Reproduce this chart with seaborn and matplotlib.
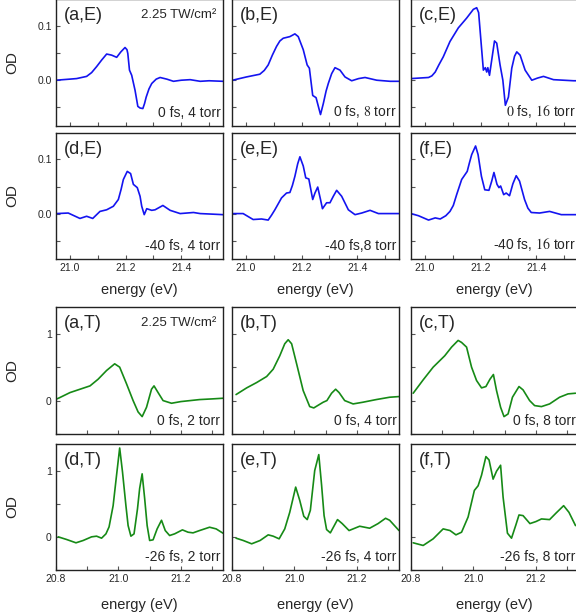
import matplotlib
matplotlib.use("Agg")
import matplotlib.pyplot as plt
import seaborn as sns

# ---- E group (blue), energy axis 20.95-21.55 eV ----
a_E_x = [20.95, 21.00, 21.024, 21.06, 21.078, 21.096, 21.114, 21.132, 21.15, 21.168, 21.183, 21.198,
         21.205, 21.208, 21.214, 21.222, 21.234, 21.244, 21.252, 21.262, 21.268, 21.274, 21.284, 21.294,
         21.31, 21.324, 21.348, 21.372, 21.40, 21.432, 21.468, 21.50, 21.55]
a_E_y = [0.0, 0.002, 0.003, 0.007, 0.014, 0.025, 0.037, 0.048, 0.046, 0.042, 0.052, 0.060,
         0.056, 0.049, 0.0185, 0.009, -0.0185, -0.048, -0.051, -0.052, -0.043, -0.031, -0.016, -0.006,
         0.002, 0.005, 0.002, -0.002, 0.0, 0.001, -0.002, -0.001, -0.002]

b_E_x = [20.952, 21.002, 21.05, 21.066, 21.08, 21.095, 21.11, 21.122, 21.134, 21.158, 21.176, 21.188,
         21.206, 21.22, 21.228, 21.24, 21.252, 21.268, 21.278, 21.288, 21.296, 21.308, 21.32, 21.338,
         21.356, 21.38, 21.405, 21.428, 21.47, 21.518, 21.55]
b_E_y = [0.0, 0.006, 0.011, 0.018, 0.028, 0.046, 0.062, 0.072, 0.077, 0.080, 0.085, 0.080,
         0.056, 0.028, 0.022, -0.028, -0.032, -0.063, -0.043, -0.020, -0.006, 0.012, 0.023, 0.0185,
         0.006, -0.001, 0.003, 0.005, 0.0, -0.002, -0.002]

c_E_x = [20.95, 21.013, 21.025, 21.037, 21.05, 21.066, 21.09, 21.12, 21.15, 21.174, 21.186, 21.193,
         21.202, 21.21, 21.217, 21.222, 21.226, 21.232, 21.24, 21.25, 21.258, 21.27, 21.28, 21.289,
         21.30, 21.312, 21.322, 21.33, 21.342, 21.36, 21.384, 21.405, 21.426, 21.462, 21.534, 21.55]
c_E_y = [0.003, 0.005, 0.008, 0.015, 0.028, 0.043, 0.071, 0.096, 0.114, 0.130, 0.133, 0.124,
         0.068, 0.0185, 0.023, 0.015, 0.023, 0.009, 0.037, 0.072, 0.068, 0.028, 0.0, -0.046,
         -0.031, 0.022, 0.044, 0.052, 0.046, 0.0185, 0.0, 0.004, 0.007, 0.001, -0.001, -0.001]

d_E_x = [20.952, 20.994, 21.036, 21.06, 21.082, 21.108, 21.132, 21.156, 21.174, 21.184, 21.192, 21.206,
         21.218, 21.228, 21.242, 21.252, 21.258, 21.267, 21.276, 21.294, 21.306, 21.334, 21.36, 21.396,
         21.444, 21.468, 21.51, 21.55]
d_E_y = [0.0, 0.001, -0.009, -0.005, -0.009, 0.004, 0.007, 0.0135, 0.026, 0.045, 0.063, 0.078,
         0.074, 0.054, 0.048, 0.032, 0.0135, -0.002, 0.009, 0.006, 0.007, 0.015, 0.006, 0.0,
         0.002, 0.0, -0.001, -0.002]

e_E_x = [20.955, 20.99, 21.026, 21.056, 21.08, 21.092, 21.104, 21.116, 21.128, 21.146, 21.158, 21.167,
         21.176, 21.186, 21.194, 21.206, 21.215, 21.226, 21.24, 21.248, 21.258, 21.268, 21.275, 21.29,
         21.302, 21.314, 21.326, 21.344, 21.368, 21.392, 21.416, 21.446, 21.476, 21.518, 21.55]
e_E_y = [0.0, 0.0, -0.011, -0.010, -0.012, -0.003, 0.007, 0.018, 0.029, 0.038, 0.039, 0.052,
         0.069, 0.092, 0.105, 0.088, 0.066, 0.064, 0.026, 0.038, 0.049, 0.026, 0.009, 0.020,
         0.020, 0.032, 0.043, 0.032, 0.007, -0.002, 0.001, 0.006, 0.0, 0.0, 0.0]

f_E_x = [20.95, 20.977, 21.013, 21.037, 21.055, 21.075, 21.09, 21.102, 21.114, 21.132, 21.152, 21.16,
         21.168, 21.182, 21.191, 21.203, 21.215, 21.23, 21.24, 21.248, 21.259, 21.266, 21.272, 21.283,
         21.292, 21.304, 21.316, 21.328, 21.34, 21.358, 21.37, 21.382, 21.412, 21.448, 21.49, 21.545]
f_E_y = [0.0, -0.004, -0.012, -0.008, -0.010, -0.004, 0.004, 0.015, 0.035, 0.063, 0.078, 0.094,
         0.109, 0.125, 0.109, 0.069, 0.044, 0.043, 0.060, 0.076, 0.054, 0.048, 0.051, 0.035,
         0.038, 0.033, 0.055, 0.070, 0.060, 0.026, 0.010, 0.002, 0.001, 0.004, -0.002, -0.002]

# ---- T group (green), energy axis 20.8-21.34 eV ----
a_T_x = [20.80, 20.81, 20.845, 20.877, 20.909, 20.935, 20.962, 20.988, 21.004, 21.026, 21.047, 21.063,
         21.076, 21.09, 21.106, 21.114, 21.127, 21.143, 21.17, 21.20, 21.26, 21.30, 21.335]
a_T_y = [0.02, 0.04, 0.12, 0.17, 0.22, 0.32, 0.45, 0.55, 0.50, 0.25, 0.0, -0.17,
         -0.24, -0.10, 0.17, 0.22, 0.12, 0.0, -0.04, -0.015, 0.015, 0.025, 0.035]

b_T_x = [20.813, 20.847, 20.879, 20.911, 20.932, 20.953, 20.969, 20.98, 20.991, 21.007, 21.028, 21.049,
         21.062, 21.076, 21.092, 21.104, 21.119, 21.132, 21.143, 21.161, 21.188, 21.219, 21.262, 21.305,
         21.335]
b_T_y = [0.09, 0.19, 0.27, 0.36, 0.47, 0.67, 0.85, 0.91, 0.85, 0.55, 0.15, -0.09,
         -0.11, -0.07, -0.025, 0.0, 0.11, 0.17, 0.12, 0.0, -0.05, -0.025, 0.015, 0.05,
         0.06]

c_T_x = [20.807, 20.839, 20.871, 20.908, 20.93, 20.951, 20.962, 20.978, 20.994, 21.01, 21.026, 21.04,
         21.053, 21.064, 21.074, 21.087, 21.098, 21.111, 21.125, 21.146, 21.159, 21.18, 21.196, 21.218,
         21.244, 21.276, 21.303, 21.327]
c_T_y = [0.11, 0.31, 0.50, 0.67, 0.80, 0.90, 0.87, 0.80, 0.50, 0.30, 0.19, 0.21,
         0.32, 0.39, 0.15, -0.10, -0.24, -0.20, 0.05, 0.21, 0.16, 0.0, -0.075, -0.09,
         -0.05, 0.05, 0.10, 0.11]

d_T_x = [20.807, 20.834, 20.864, 20.887, 20.914, 20.93, 20.946, 20.96, 20.97, 20.983, 20.994, 21.004,
         21.013, 21.024, 21.031, 21.04, 21.05, 21.061, 21.068, 21.076, 21.084, 21.092, 21.10, 21.111,
         21.124, 21.138, 21.15, 21.164, 21.18, 21.205, 21.223, 21.239, 21.26, 21.292, 21.313, 21.335]
d_T_y = [0.0, -0.04, -0.09, -0.055, 0.0, 0.01, -0.02, 0.045, 0.15, 0.47, 0.93, 1.34,
         0.98, 0.47, 0.17, 0.01, 0.045, 0.42, 0.73, 0.95, 0.58, 0.17, -0.055, -0.045,
         0.12, 0.25, 0.095, 0.02, 0.045, 0.105, 0.07, 0.06, 0.095, 0.145, 0.12, 0.055]

e_T_x = [20.813, 20.836, 20.863, 20.89, 20.916, 20.932, 20.951, 20.969, 20.985, 21.004, 21.017, 21.03,
         21.041, 21.051, 21.065, 21.078, 21.087, 21.095, 21.103, 21.115, 21.138, 21.153, 21.175, 21.209,
         21.241, 21.268, 21.292, 21.305, 21.335]
e_T_y = [-0.02, -0.055, -0.105, -0.055, 0.03, 0.01, -0.03, 0.12, 0.37, 0.75, 0.55, 0.31,
         0.26, 0.40, 1.00, 1.24, 0.78, 0.32, 0.11, 0.06, 0.26, 0.20, 0.095, 0.16,
         0.13, 0.20, 0.28, 0.25, 0.095]

f_T_x = [20.807, 20.839, 20.871, 20.903, 20.925, 20.944, 20.962, 20.983, 21.003, 21.015, 21.026, 21.04,
         21.05, 21.063, 21.074, 21.087, 21.095, 21.109, 21.122, 21.136, 21.146, 21.159, 21.181, 21.20,
         21.218, 21.244, 21.265, 21.289, 21.306, 21.327]
f_T_y = [-0.09, -0.13, -0.03, 0.12, 0.095, 0.03, 0.07, 0.30, 0.70, 0.77, 0.93, 1.21,
         1.16, 0.87, 0.99, 1.08, 0.60, 0.055, -0.02, 0.18, 0.33, 0.32, 0.20, 0.23,
         0.27, 0.26, 0.36, 0.47, 0.37, 0.17]

panel_names_E = ["(a,E)", "(b,E)", "(c,E)", "(d,E)", "(e,E)", "(f,E)"]
panel_names_T = ["(a,T)", "(b,T)", "(c,T)", "(d,T)", "(e,T)", "(f,T)"]
conditions_E = ["0 fs, 4 torr", "0 fs, $\\mathrm{8}$ torr", "$\\mathrm{0}$ fs, $\\mathrm{16}$ torr",
                "-40 fs, 4 torr", "-40 fs,8 torr", "-40 fs, $\\mathrm{16}$ torr"]
conditions_T = ["0 fs, 2 torr", "0 fs, 4 torr", "0 fs, 8 torr",
                "-26 fs, 2 torr", "-26 fs, 4 torr", "-26 fs, 8 torr"]
intensity_label = "2.25 TW/cm²"

E_xticks = [21.0, 21.1, 21.2, 21.3, 21.4, 21.5]
E_xticklabels = ["21.0", "", "21.2", "", "21.4", ""]
E_yticks = [-0.05, 0.0, 0.05, 0.1]
E_yticklabels = ["", "0.0", "", "0.1"]
T_xticks = [20.8, 20.9, 21.0, 21.1, 21.2, 21.3]
T_xticklabels = ["20.8", "", "21.0", "", "21.2", ""]
T_yticks = [-0.5, 0, 0.5, 1.0]
T_yticklabels = ["", "0", "", "1"]

E_data = [(a_E_x, a_E_y), (b_E_x, b_E_y), (c_E_x, c_E_y),
          (d_E_x, d_E_y), (e_E_x, e_E_y), (f_E_x, f_E_y)]
T_data = [(a_T_x, a_T_y), (b_T_x, b_T_y), (c_T_x, c_T_y),
          (d_T_x, d_T_y), (e_T_x, e_T_y), (f_T_x, f_T_y)]

sns.set_style("ticks")
plt.rcParams["font.family"] = ["Liberation Sans", "DejaVu Sans"]
plt.rcParams["mathtext.fontset"] = "stix"

W, H = 576, 615
fig = plt.figure(figsize=(W / 100, H / 100), dpi=100)

col_left = [56, 232, 411]
col_w = 167
rows_E = [(-1, 126), (133, 259)]
rows_T = [(307, 434), (444, 570)]


def make_ax(left, top, bottom):
    return fig.add_axes([left / W, 1 - bottom / H, col_w / W, (bottom - top) / H])


def draw_group(rows, data, names, conds, color, xlim, ylim, xticks, xtl, yticks, ytl, xlab_y):
    for i, (xs, ys) in enumerate(data):
        r, c = divmod(i, 3)
        top, bottom = rows[r]
        h = bottom - top
        ax = make_ax(col_left[c], top, bottom)
        sns.lineplot(x=xs, y=ys, ax=ax, color=color, lw=1.2, estimator=None, sort=False)
        ax.set_xlim(*xlim)
        ax.set_ylim(*ylim)
        ax.set_xticks(xticks)
        ax.set_yticks(yticks)
        ax.set_xticklabels(xtl if r == 1 else [""] * len(xticks))
        ax.set_yticklabels(ytl if c == 0 else [""] * len(yticks))
        ax.tick_params(direction="in", length=3, width=0.8, color="#555555",
                       labelsize=7.5, pad=3)
        for s in ax.spines.values():
            s.set_linewidth(1.0)
            s.set_color("#222222")
        ax.text(0.045, 1 - 7.5 / h, names[i], transform=ax.transAxes, ha="left", va="top",
                fontsize=13)
        ax.text(0.985, 0.045, conds[i], transform=ax.transAxes, ha="right", va="bottom",
                fontsize=10)
        if i == 0:
            ax.text(0.96, 1 - 10 / h, intensity_label, transform=ax.transAxes, ha="right", va="top",
                    fontsize=9.5)
        if c == 0:
            ax.set_ylabel("OD", fontsize=11)
            ax.yaxis.set_label_coords(-0.22, 0.5)
        else:
            ax.set_ylabel("")
        if r == 1:
            ax.set_xlabel("energy (eV)", fontsize=10.5)
            ax.xaxis.set_label_coords(0.5, xlab_y)
        else:
            ax.set_xlabel("")


draw_group(rows_E, E_data, panel_names_E, conditions_E, "#1414f0", (20.95, 21.55), (-0.084, 0.149),
           E_xticks, E_xticklabels, E_yticks, E_yticklabels, -0.19)
draw_group(rows_T, T_data, panel_names_T, conditions_T, "#168a16", (20.8, 21.335), (-0.5, 1.4),
           T_xticks, T_xticklabels, T_yticks, T_yticklabels, -0.22)

fig.savefig("out.png", dpi=100)
